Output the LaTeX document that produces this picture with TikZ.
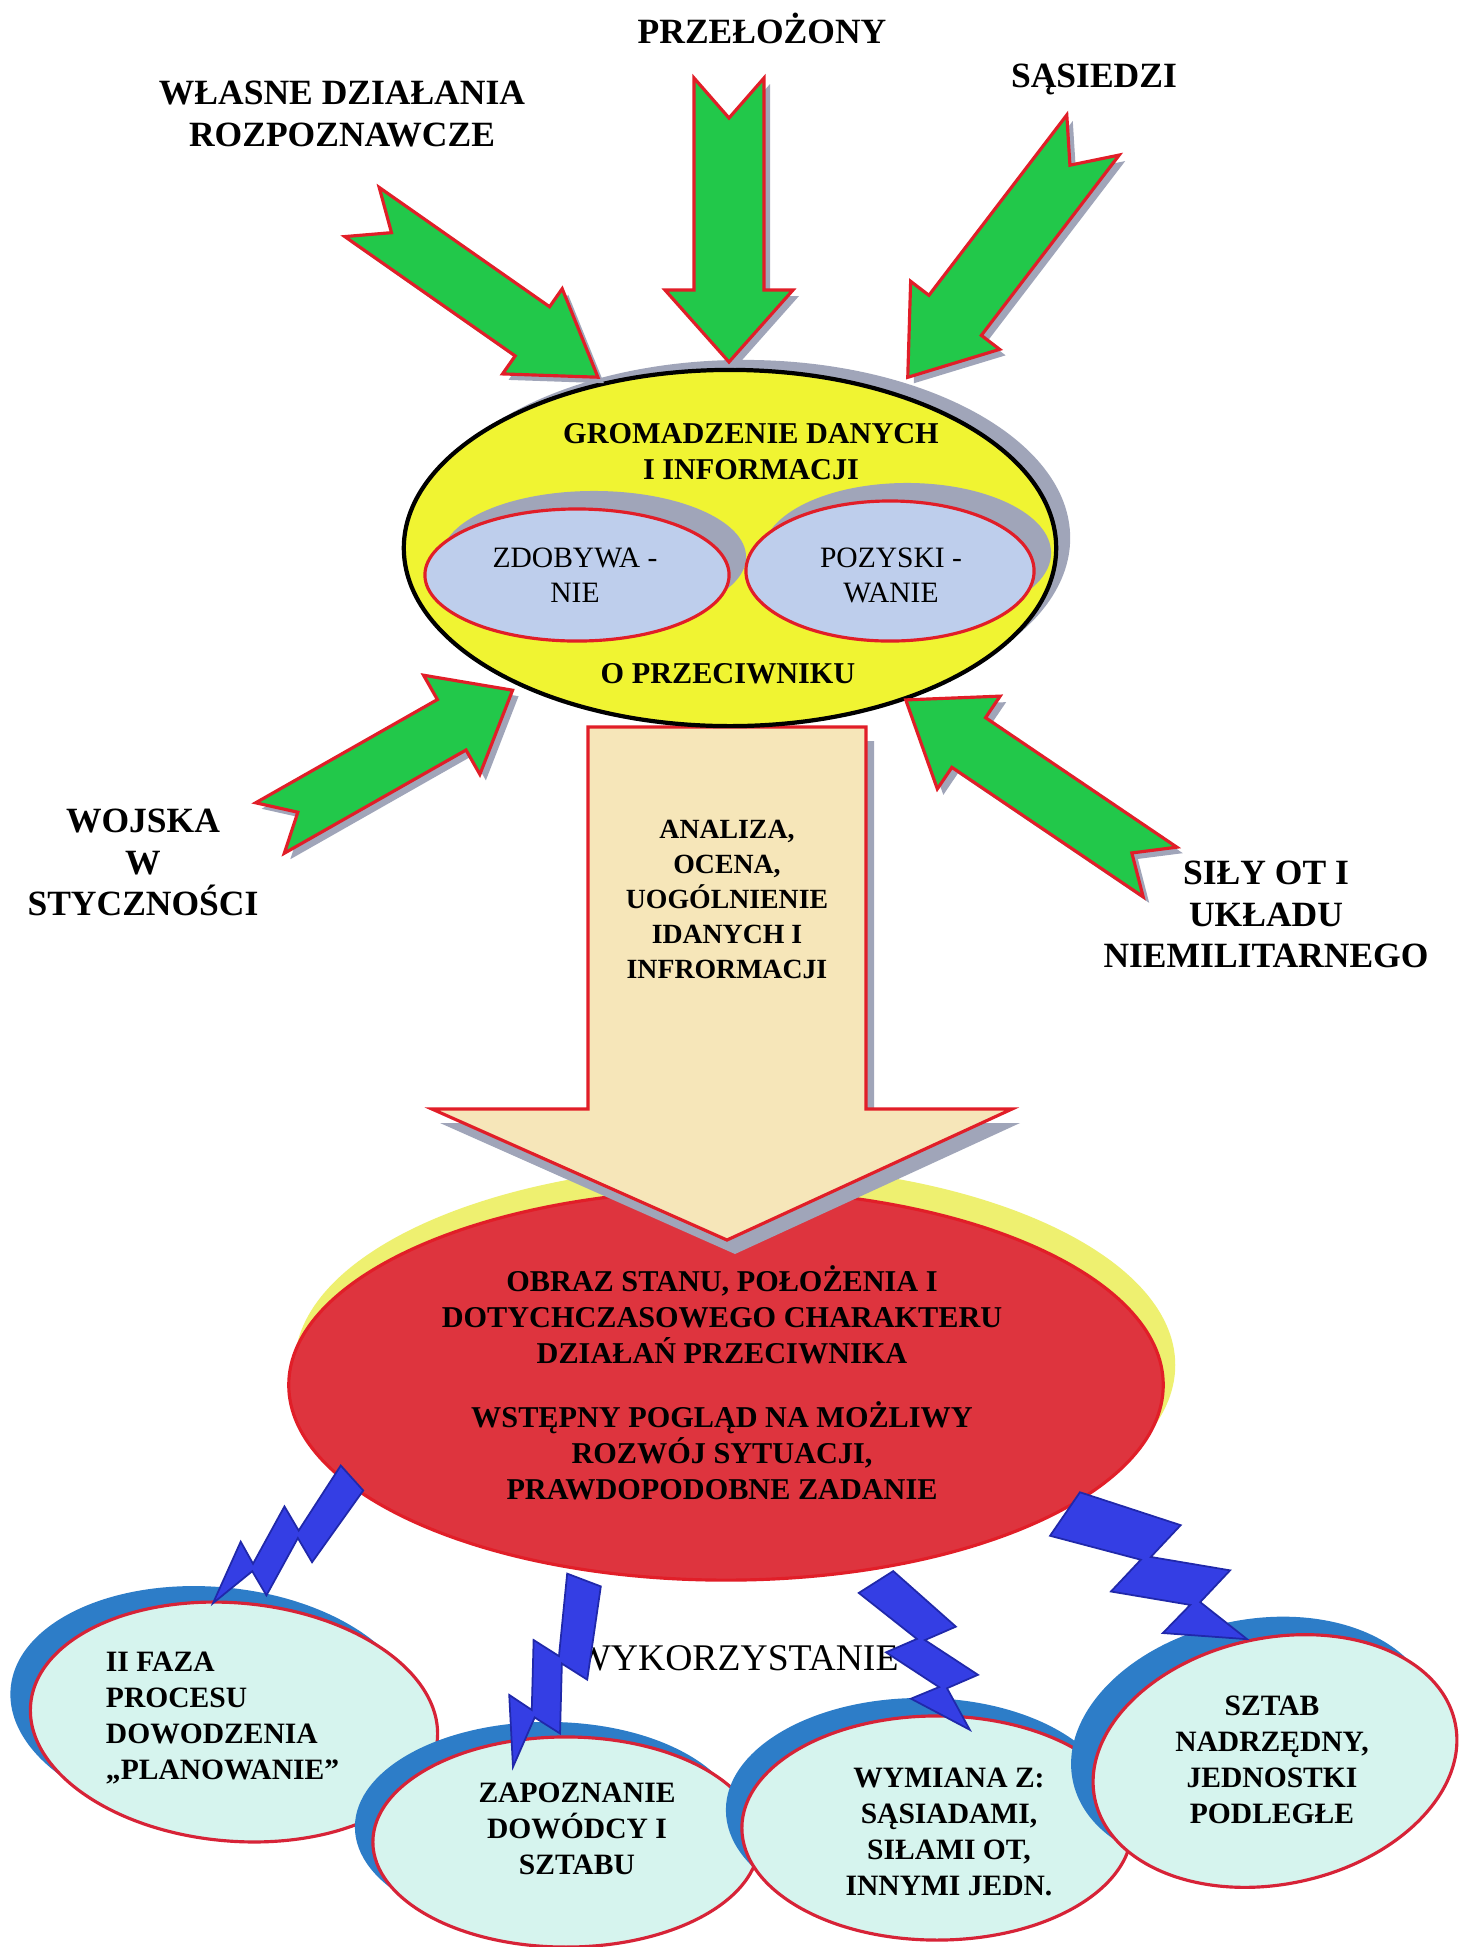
\documentclass[tikz,border=0pt]{standalone}
\usepackage{fontspec}
\setmainfont{Liberation Serif}
\usetikzlibrary{shapes.geometric}

\definecolor{inflowgreen}{RGB}{34,200,74}
\definecolor{edgered}{RGB}{225,30,40}
\definecolor{arrowshade}{RGB}{160,165,185}
\definecolor{gatheryellow}{RGB}{240,244,50}
\definecolor{innerblue}{RGB}{190,206,236}
\definecolor{creamfill}{RGB}{246,230,185}
\definecolor{resultred}{RGB}{222,52,62}
\definecolor{resultback}{RGB}{238,240,112}
\definecolor{boltblue}{RGB}{52,62,228}
\definecolor{boltedge}{RGB}{32,40,170}
\definecolor{usefill}{RGB}{214,244,238}
\definecolor{useshade}{RGB}{45,125,200}
\definecolor{useedge}{RGB}{215,35,55}

\tikzset{
  every node/.style={inner sep=0pt, outer sep=0pt},
  ell/.style={ellipse, inner sep=0pt, outer sep=0pt},
  inflow/.style={fill=inflowgreen, draw=edgered, line width=0.9pt, line join=miter},
  boltshape/.style={fill=boltblue, draw=boltedge, line width=0.5pt, line join=miter},
  outer/.style={font=\bfseries\fontsize{10.1pt}{11.8pt}\selectfont, align=center},
  gathertext/.style={font=\bfseries\fontsize{8.6pt}{10.5pt}\selectfont, align=center},
  innertext/.style={font=\fontsize{8.4pt}{9.96pt}\selectfont, align=center},
  creamtext/.style={font=\bfseries\fontsize{7.9pt}{9.96pt}\selectfont, align=center},
  resulttext/.style={font=\bfseries\fontsize{8.6pt}{10.2pt}\selectfont, align=center},
  usetext/.style={font=\bfseries\fontsize{8.4pt}{10.2pt}\selectfont, align=center},
  usering/.style={ell, fill=usefill, draw=useedge, line width=0.9pt},
  useback/.style={ell, fill=useshade},
}

% block arrow with swallow tail: x, y of tail, angle, length, shaft half width,
% head half width, head length, notch depth
\newcommand\greenarrow[8]{%
  \begin{scope}[shift={(#1+6,#2+6)},rotate=#3]
    \fill[arrowshade] (0,#5) -- (#8,0) -- (0,-#5) -- (#4-#7,-#5) -- (#4-#7,-#6)
      -- (#4,0) -- (#4-#7,#6) -- (#4-#7,#5) -- cycle;
  \end{scope}
  \begin{scope}[shift={(#1,#2)},rotate=#3]
    \filldraw[inflow] (0,#5) -- (#8,0) -- (0,-#5) -- (#4-#7,-#5) -- (#4-#7,-#6)
      -- (#4,0) -- (#4-#7,#6) -- (#4-#7,#5) -- cycle;
  \end{scope}}

% lightning bolt: start x, y, angle, length, width factor
\newcommand\zigbolt[5]{%
  \begin{scope}[shift={(#1,#2)},rotate=#3,xscale=#4,yscale=#5]
    \filldraw[boltshape] (0,12) -- (0.40,-2.4) -- (0.37,17.2) -- (0.70,1.8)
      -- (0.67,19.4) -- (1,0) -- (0.73,-1.8) -- (0.76,-21.4) -- (0.43,-6)
      -- (0.46,-25.6) -- (0,-12) -- cycle;
  \end{scope}}

\begin{document}
\begin{tikzpicture}[x=0.01cm,y=-0.01cm]
\useasboundingbox (0,0) rectangle (1464,1947);
\fill[white] (0,0) rectangle (1464,1947);

% result ellipse on its yellow backing
\node[ell, fill=resultback, minimum width=8.80cm, minimum height=4.00cm] (resultbg) at (735,1365) {};
\node[ell, fill=resultred, draw=edgered, line width=0.9pt, minimum width=8.74cm, minimum height=3.90cm] (result) at (726,1385) {};

% analysis arrow
\fill[arrowshade, shift={(8,14)}] (588,727) -- (866,727) -- (866,1109) -- (1012,1109)
  -- (727,1240) -- (432,1109) -- (588,1109) -- cycle;
\filldraw[fill=creamfill, draw=edgered, line width=0.9pt, line join=miter]
  (588,727) -- (866,727) -- (866,1109) -- (1012,1109)
  -- (727,1240) -- (432,1109) -- (588,1109) -- cycle;

% gathering ellipse
\node[ell, fill=arrowshade, minimum width=6.52cm, minimum height=3.56cm] (gathershade) at (744,538) {};
\node[ell, fill=gatheryellow, draw=black, line width=1.2pt, minimum width=6.52cm, minimum height=3.56cm] (gather) at (730,548) {};
\node[ell, fill=arrowshade, minimum width=3.04cm, minimum height=1.32cm] (acqshade) at (594,557) {};
\node[ell, fill=innerblue, draw=edgered, line width=0.9pt, minimum width=3.04cm, minimum height=1.32cm] (acquire) at (577,575) {};
\node[ell, fill=arrowshade, minimum width=2.88cm, minimum height=1.40cm] (obtshade) at (907,553) {};
\node[ell, fill=innerblue, draw=edgered, line width=0.9pt, minimum width=2.88cm, minimum height=1.40cm] (obtain) at (890,571) {};

% incoming sources
\greenarrow{729}{78}{-90}{284}{35}{64}{72}{40}
\greenarrow{362}{212}{-35}{288}{30}{52}{80}{36}
\greenarrow{1093}{135}{-127.4}{305}{33}{56}{78}{38}
\greenarrow{270}{828}{29.6}{279}{29}{57}{70}{32}
\greenarrow{1160}{872}{145.9}{307}{30}{56}{76}{34}

% source labels
\node[outer, anchor=base] (boss) at (762,43) {PRZEŁOŻONY};
\node[outer, anchor=north] (own) at (342,81) {WŁASNE DZIAŁANIA\\ROZPOZNAWCZE};
\node[outer, anchor=base] (neigh) at (1094,87) {SĄSIEDZI};
\node[outer, anchor=north] (contact) at (143,809) {WOJSKA\\W\\STYCZNOŚCI};
\node[outer, anchor=north] (territorial) at (1266,861) {SIŁY OT I\\UKŁADU\\NIEMILITARNEGO};

% texts of the gathering ellipse
\node[gathertext, anchor=north] (gtitle) at (751,423) {GROMADZENIE DANYCH\\I INFORMACJI};
\node[gathertext, anchor=base] (enemy) at (728,683) {O PRZECIWNIKU};
\node[innertext, anchor=north] (acqtext) at (575,548) {ZDOBYWA -\\NIE};
\node[innertext, anchor=north] (obttext) at (891,548) {POZYSKI -\\WANIE};

% analysis text
\node[creamtext, anchor=north] (analysis) at (727,820) {ANALIZA,\\OCENA,\\UOGÓLNIENIE\\IDANYCH I\\INFRORMACJI};

% result text
\node[resulttext, anchor=north] (resulttxt) at (722,1266) {OBRAZ STANU, POŁOŻENIA I\\DOTYCHCZASOWEGO CHARAKTERU\\DZIAŁAŃ PRZECIWNIKA\\[8pt]WSTĘPNY POGLĄD NA MOŻLIWY\\ROZWÓJ SYTUACJI,\\PRAWDOPODOBNE ZADANIE};

% uses of the result
\node[useback, minimum width=4.08cm, minimum height=2.38cm, rotate=-5] (planshade) at (214,1706) {};
\node[usering, minimum width=4.08cm, minimum height=2.38cm, rotate=-5] (plan) at (234,1722) {};
\node[useback, minimum width=3.86cm, minimum height=2.10cm] (briefshade) at (548,1827) {};
\node[usering, minimum width=3.86cm, minimum height=2.10cm] (brief) at (566,1842) {};
\node[useback, minimum width=3.90cm, minimum height=2.24cm] (exchshade) at (921,1810) {};
\node[usering, minimum width=3.90cm, minimum height=2.24cm] (exchange) at (937,1828) {};
\node[useback, minimum width=3.68cm, minimum height=2.46cm, rotate=12] (hqshade) at (1253,1743) {};
\node[usering, minimum width=3.68cm, minimum height=2.46cm, rotate=12] (hq) at (1275,1761) {};

\node[font=\fontsize{10.7pt}{12pt}\selectfont, anchor=base] (usage) at (737,1670) {WYKORZYSTANIE};

% lightning links
\zigbolt{352}{1478}{-138}{187}{1.4}
\zigbolt{584}{1580}{-110.8}{200}{1.5}
\zigbolt{876}{1582}{-57.6}{175}{1.7}
\zigbolt{1065}{1514}{-34.5}{221}{2.2}

\node[usetext, align=left, anchor=north west] (plantxt) at (106,1652) {II FAZA\\PROCESU\\DOWODZENIA\\„PLANOWANIE”};
\node[usetext, anchor=north] (brieftxt) at (577,1783) {ZAPOZNANIE\\DOWÓDCY I\\SZTABU};
\node[usetext, anchor=north] (exchtxt) at (949,1768) {WYMIANA Z:\\SĄSIADAMI,\\SIŁAMI OT,\\INNYMI JEDN.};
\node[usetext, anchor=north] (hqtxt) at (1272,1696) {SZTAB\\NADRZĘDNY,\\JEDNOSTKI\\PODLEGŁE};
\end{tikzpicture}
\end{document}
